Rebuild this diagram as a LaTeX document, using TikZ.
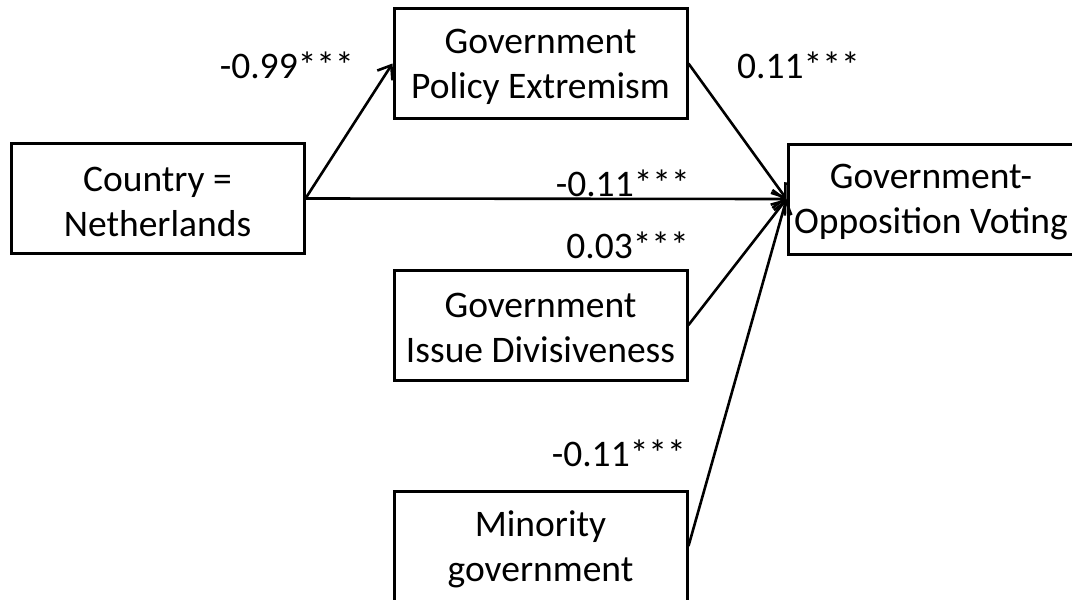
\documentclass[tikz,border=0pt]{standalone}
\usepackage{fontspec}
\setmainfont{Carlito}
\usetikzlibrary{arrows.meta}
\begin{document}
\begin{tikzpicture}[x=1pt,y=-1pt,
  box/.style={draw, line width=3pt, minimum width=293pt, minimum height=110pt, inner sep=0pt},
  txt/.style={align=center, font=\fontsize{37.5}{45}\selectfont, inner sep=0pt},
  lab/.style={font=\fontsize{37.5}{45}\selectfont, inner sep=0pt},
  arr/.style={line width=2.6pt, -{Straight Barb[length=12pt, width=18pt]}}]
\useasboundingbox (0,0) rectangle (1072,600);
\node[box] (cn) at (157.5,198.5) {};
\node[box] (pe) at (540.5,63.5) {};
\node[box] (id) at (540.5,325) {};
\node[box] (mg) at (540.5,546) {};
\node[box, minimum width=286pt] (gv) at (931,199) {};
\node[txt] (cnt) at ([yshift=-3pt]cn.center) {Country =\\Netherlands};
\node[txt] (pet) at ([yshift=-3pt]pe.center) {Government\\Policy Extremism};
\node[txt] (idt) at ([yshift=-3pt]id.center) {Government\\Issue Divisiveness};
\node[txt] (mgt) at ([yshift=-3pt]mg.center) {Minority\\government};
\node[txt] (gvt) at ([yshift=-3pt]gv.center) {Government-\\Opposition Voting};
\draw[arr] (cn.east) -- (pe.west);
\draw[arr] (cn.east) -- (gv.west);
\draw[arr] (pe.east) -- (gv.west);
\draw[arr] (id.east) -- (gv.west);
\draw[arr] (mg.east) -- (gv.west);
\node[lab, anchor=east] (l1) at (354,65) {-0.99***};
\node[lab, anchor=west] (l2) at (737,65) {0.11***};
\node[lab, anchor=east] (l3) at (690,183) {-0.11***};
\node[lab, anchor=east] (l4) at (689,245) {0.03***};
\node[lab, anchor=east] (l5) at (686,453) {-0.11***};
\end{tikzpicture}
\end{document}
